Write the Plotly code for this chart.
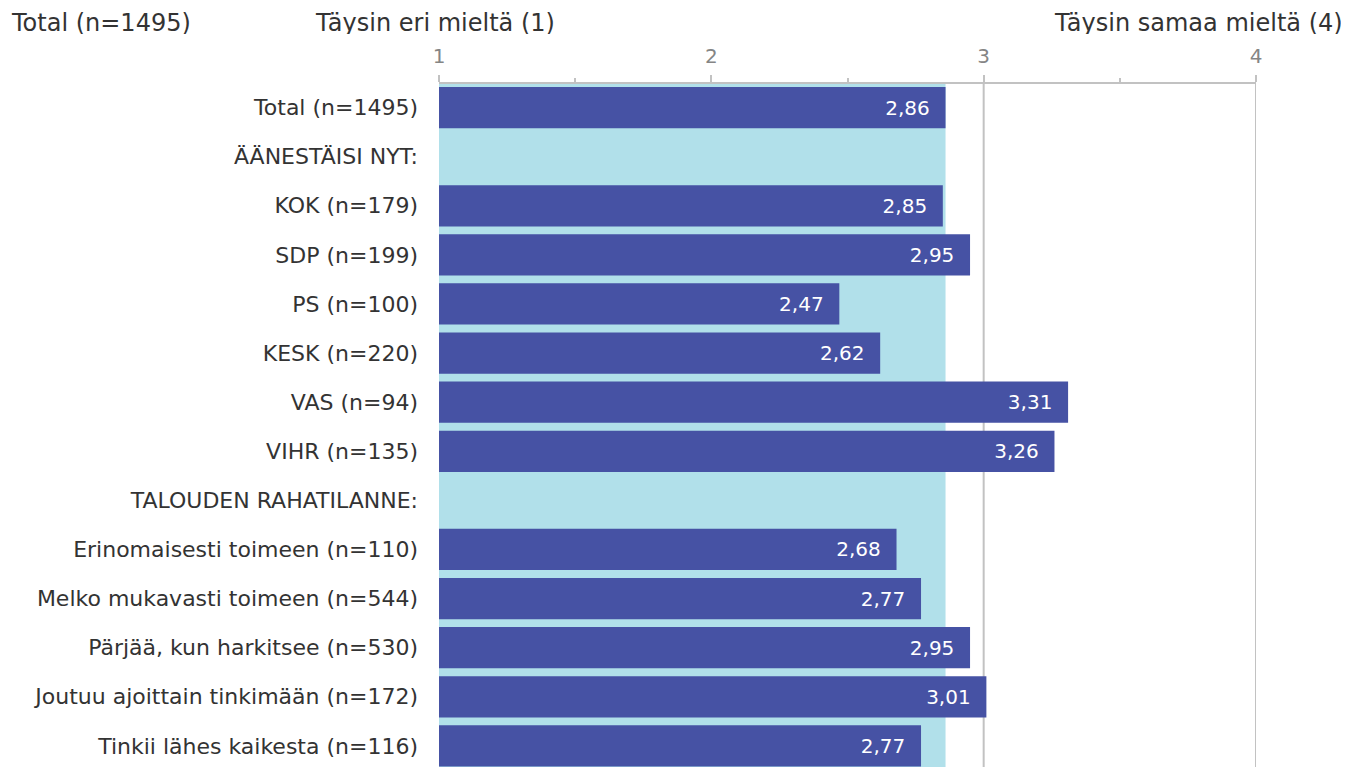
import plotly.graph_objects as go

# Data
categories = [
    "Total (n=1495)",
    "ÄÄNESTÄISI NYT:",
    "KOK (n=179)",
    "SDP (n=199)",
    "PS (n=100)",
    "KESK (n=220)",
    "VAS (n=94)",
    "VIHR (n=135)",
    "TALOUDEN RAHATILANNE:",
    "Erinomaisesti toimeen (n=110)",
    "Melko mukavasti toimeen (n=544)",
    "Pärjää, kun harkitsee (n=530)",
    "Joutuu ajoittain tinkimään (n=172)",
    "Tinkii lähes kaikesta (n=116)",
]
values = [2.86, None, 2.85, 2.95, 2.47, 2.62, 3.31, 3.26, None,
          2.68, 2.77, 2.95, 3.01, 2.77]
total_value = 2.86
tick_values = [1, 2, 3, 4]
minor_ticks = [1.5, 2.5, 3.5]

BAR = "#4652A4"
BG = "#B1E0EA"
TEXT = "#333333"
GRID = "#C2C2C2"
FONT = "DejaVu Sans"

# the page body adds 8px on each side, so the figure is drawn 8px smaller
W, H = 1341, 759
L, R, T = 431, 93, 76
plot_w = W - L - R

labels = ["" if v is None else f"{v:.2f}".replace(".", ",") + "\u00a0\u00a0" for v in values]
bases = [1 if v is not None else None for v in values]
lengths = [v - 1 if v is not None else None for v in values]

fig = go.Figure()

fig.add_trace(go.Bar(
    y=categories,
    x=lengths,
    base=bases,
    orientation="h",
    width=0.84,
    marker=dict(color=BAR, line=dict(width=0)),
    text=labels,
    textposition="inside",
    insidetextanchor="end",
    textfont=dict(family=FONT, size=20, color="white"),
    hovertemplate="%{y}: %{text}<extra></extra>",
    showlegend=False,
))

# vertical grid lines (drawn as shapes so the band can cover the ones under it)
for t in tick_values:
    fig.add_shape(type="line", xref="x", yref="paper", x0=t, x1=t, y0=0, y1=1,
                  line=dict(color=GRID, width=2), layer="between")

# light blue band = total average, behind every row
fig.add_shape(type="rect", xref="x", yref="paper", x0=1, x1=total_value, y0=0, y1=1,
              fillcolor=BG, line=dict(width=0), layer="between")

fig.update_layout(
    width=W,
    height=H,
    plot_bgcolor="white",
    paper_bgcolor="white",
    font=dict(family=FONT, color=TEXT, size=22),
    margin=dict(l=L, r=R, t=T, b=0, autoexpand=False),
    xaxis=dict(
        side="top",
        range=[1, 4],
        tickvals=tick_values,
        ticktext=[str(t) for t in tick_values],
        tickfont=dict(family=FONT, size=20, color="#858585"),
        ticklabelstandoff=4,
        showgrid=False,
        showline=True,
        linecolor=GRID,
        linewidth=2,
        ticks="outside",
        ticklen=7,
        tickwidth=1.5,
        tickcolor=GRID,
        minor=dict(tickvals=minor_ticks, ticks="outside", ticklen=4,
                   tickwidth=1.5, tickcolor=GRID, showgrid=False),
        zeroline=False,
        fixedrange=True,
    ),
    yaxis=dict(
        range=[13.43, -0.48],
        showgrid=False,
        showline=False,
        zeroline=False,
        ticks="",
        ticklabelstandoff=20,
        tickfont=dict(family=FONT, size=22, color=TEXT),
        fixedrange=True,
    ),
    annotations=[
        dict(text="Total (n=1495)", xref="paper", yref="paper", x=-L / plot_w, xshift=1,
             y=1, yshift=T - 15, xanchor="left", yanchor="middle", height=22,
             showarrow=False, font=dict(family=FONT, size=24, color=TEXT)),
        dict(text="Täysin eri mieltä (1)", xref="x", yref="paper", x=1, xshift=-4,
             y=1, yshift=T - 15, xanchor="center", yanchor="middle", height=22,
             showarrow=False, font=dict(family=FONT, size=24, color=TEXT)),
        dict(text="Täysin samaa mieltä (4)", xref="paper", yref="paper", x=1, xshift=89,
             y=1, yshift=T - 15, xanchor="right", yanchor="middle", height=22,
             showarrow=False, font=dict(family=FONT, size=24, color=TEXT)),
    ],
)

fig.write_html("out.html")
